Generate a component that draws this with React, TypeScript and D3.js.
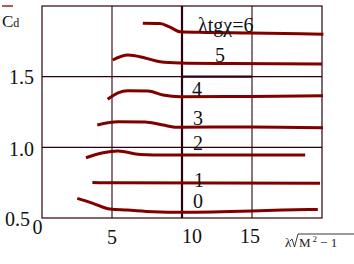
import React from "react";
import * as d3 from "d3";

const xTicks = [5, 10, 15];
const yTicks = [1.0, 1.5];
const curveLabels = ["λtgχ=6", "5", "4", "3", "2", "1", "0"];

const c6x = [7.2, 8.43, 9.14, 9.86, 11.3, 14.86, 20.1];
const c6y = [1.878, 1.876, 1.85, 1.818, 1.814, 1.809, 1.8];
const c5x = [5.05, 6.14, 7.36, 8.43, 9.86, 13.4, 20.0];
const c5y = [1.618, 1.653, 1.632, 1.606, 1.597, 1.593, 1.59];
const c4x = [4.69, 5.43, 6.14, 7.57, 8.64, 9.86, 14.86, 20.07];
const c4y = [1.34, 1.386, 1.4, 1.398, 1.37, 1.358, 1.36, 1.365];
const c3x = [3.95, 5.43, 7.36, 8.64, 9.64, 14.86, 20.07];
const c3y = [1.158, 1.181, 1.179, 1.158, 1.142, 1.144, 1.139];
const c2x = [3.14, 4.36, 5.43, 7.0, 8.93, 18.8];
const c2y = [0.926, 0.962, 0.974, 0.95, 0.945, 0.945];
const c1x = [3.6, 5.07, 19.86];
const c1y = [0.752, 0.749, 0.745];
const c0x = [2.52, 3.64, 4.86, 6.07, 7.93, 10.07, 15.0, 17.2, 19.7];
const c0y = [0.639, 0.604, 0.563, 0.556, 0.544, 0.54, 0.549, 0.556, 0.561];

const curvesX = [c6x, c5x, c4x, c3x, c2x, c1x, c0x];
const curvesY = [c6y, c5y, c4y, c3y, c2y, c1y, c0y];

const W = 354;
const H = 264;
const x = d3.scaleLinear().domain([0, 20]).range([42, 322]);
const y = d3.scaleLinear().domain([0.5, 2.0]).range([218, 6]);

const labelPos = [
  { x: 198, y: 32 },
  { x: 215, y: 62 },
  { x: 192, y: 96 },
  { x: 193, y: 125 },
  { x: 193, y: 150 },
  { x: 194, y: 187 },
  { x: 193, y: 208 },
];

const GRID = "#2b0010";
const RED = "#800000";
const F = "Liberation Serif";

export default function App() {
  const line = d3
    .line<[number, number]>()
    .x((d) => x(d[0]))
    .y((d) => y(d[1]))
    .curve(d3.curveMonotoneX);
  return (
    <svg width={W} height={H} style={{ position: "absolute", left: 0, top: 0, background: "#fff" }}>
      <rect x={x(0)} y={y(2)} width={x(20) - x(0)} height={y(0.5) - y(2)} fill="none" stroke={GRID} strokeWidth={1.2} />
      {xTicks.map((t) => (
        <line key={"gx" + t} x1={x(t)} x2={x(t)} y1={y(2)} y2={y(0.5)} stroke={GRID} strokeWidth={t === 10 ? 2.2 : 1.1} />
      ))}
      {yTicks.map((t) => (
        <line key={"gy" + t} x1={x(0)} x2={x(20)} y1={y(t)} y2={y(t)} stroke={GRID} strokeWidth={1.1} />
      ))}
      <line x1={x(10)} x2={x(15)} y1={y(1.5)} y2={y(1.5)} stroke={GRID} strokeWidth={2.2} />
      {curvesX.map((cx, i) => (
        <path
          key={"c" + i}
          d={line(cx.map((v, j) => [v, curvesY[i][j]] as [number, number])) || ""}
          fill="none"
          stroke={RED}
          strokeWidth={3}
        />
      ))}
      {curveLabels.map((l, i) => (
        <text key={"l" + i} x={labelPos[i].x} y={labelPos[i].y} fontSize={20} fontFamily={F} fill="#111">
          {l}
        </text>
      ))}
      <text x={34} y={84} fontSize={20} fontFamily={F} textAnchor="end" fill="#111">1.5</text>
      <text x={34} y={156} fontSize={20} fontFamily={F} textAnchor="end" fill="#111">1.0</text>
      <text x={30} y={226} fontSize={20} fontFamily={F} textAnchor="end" fill="#111">0.5</text>
      <text x={37.5} y={234} fontSize={20} fontFamily={F} textAnchor="middle" fill="#111">0</text>
      <text x={x(5)} y={244} fontSize={20} fontFamily={F} textAnchor="middle" fill="#111">5</text>
      <text x={x(10) + 10} y={243} fontSize={20} fontFamily={F} textAnchor="middle" fill="#111">10</text>
      <text x={x(15) - 2} y={243} fontSize={20} fontFamily={F} textAnchor="middle" fill="#111">15</text>
      <text x={285} y={247} fontSize={13} fontFamily={F} fill="#222">λ</text>
      <path d="M290,241 L292,239 L294.5,247 L298,234 L354,234" fill="none" stroke="#222" strokeWidth={0.9} />
      <text x={299} y={247} fontSize={13} fontFamily={F} fill="#222">
        M
        <tspan fontSize={9} dy={-5} dx={2}>2</tspan>
        <tspan dy={5} dx={3}>− 1</tspan>
      </text>
      <line x1={2} x2={13} y1={6} y2={6} stroke={RED} strokeWidth={1.3} />
      <text x={2} y={27} fontSize={17} fontFamily={F} fill="#111">
        C<tspan fontSize={12}>d</tspan>
      </text>
    </svg>
  );
}
